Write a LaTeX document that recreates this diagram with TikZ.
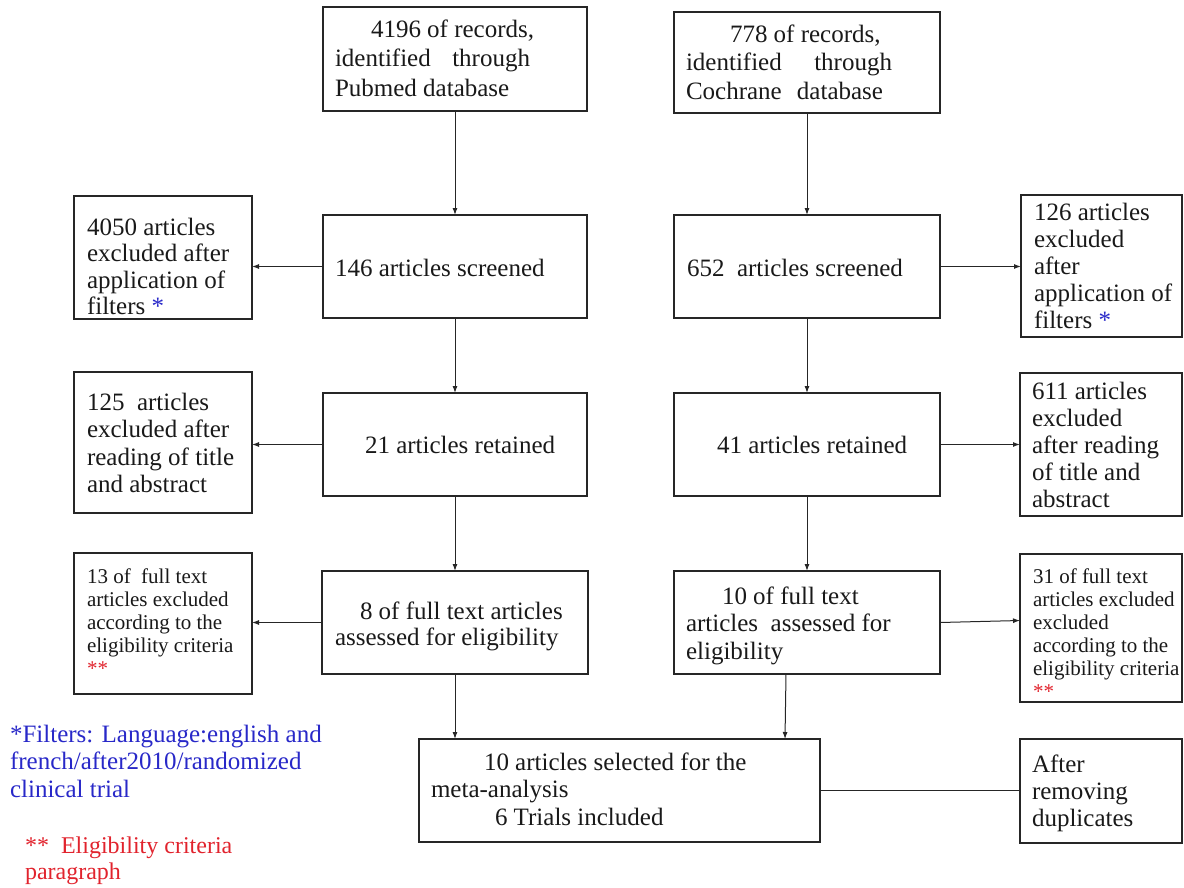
\documentclass[tikz,border=0pt]{standalone}
\usepackage{fontspec}
\setmainfont{Liberation Serif}
\usetikzlibrary{arrows.meta}
\definecolor{nblue}{RGB}{40,40,200}
\definecolor{nred}{RGB}{225,35,45}
\tikzset{
  box/.style={draw=black!85, line width=1.2pt, inner sep=0pt, outer sep=0pt},
  arr/.style={draw=black!85, line width=1pt, -{Latex[length=7pt,width=5pt]}},
  plain/.style={draw=black!85, line width=1pt},
  txt/.style={anchor=north west, inner sep=0pt, outer sep=0pt, align=left, text=black!90},
}
\newcommand\mkbox[5]{\node[box, minimum width={#4-#2}, minimum height={#5-#3}] (#1) at ({(#2+#4)/2},{(#3+#5)/2}) {};}
\newcommand\tx[5]{\node[txt, font=\fontsize{#3}{#4}\selectfont] (#1) at (#2) {\rule{0pt}{0.72em}#5};}
\begin{document}
\begin{tikzpicture}[x=1pt,y=-1pt]
\useasboundingbox (0,0) rectangle (1184,887);
% boxes
\mkbox{A}{323}{7}{587}{111}
\mkbox{B}{674}{12}{940}{113}
\mkbox{C}{323}{215}{587}{318}
\mkbox{D}{674}{215}{940}{318}
\mkbox{E}{323}{393}{587}{496}
\mkbox{F}{674}{393}{940}{496}
\mkbox{G}{322}{571}{588}{674}
\mkbox{H}{674}{571}{940}{674}
\mkbox{I}{419}{739}{820}{842}
\mkbox{J}{1020}{739}{1182}{843}
\mkbox{La}{74}{196}{252}{319}
\mkbox{Lb}{74}{372}{252}{513}
\mkbox{Lc}{74}{553}{252}{694}
\mkbox{Ra}{1021}{195}{1182}{337}
\mkbox{Rb}{1020}{373}{1182}{516}
\mkbox{Rc}{1020}{554}{1182}{702}
% texts
\tx{tA}{335,19}{25}{29.5}{\hspace*{36pt}4196 of records,\\\makebox[195pt][s]{identified through}\\Pubmed database}
\tx{tB}{686,24}{25}{28.5}{\hspace*{44pt}778 of records,\\\makebox[206pt][s]{identified through}\\\makebox[197pt][s]{Cochrane database}}
\tx{tC}{335,258}{25}{28}{146 articles screened}
\tx{tD}{687,258}{25}{28}{652\ \ articles screened}
\tx{tE}{365,435}{25}{28}{21 articles retained}
\tx{tF}{717,435}{25}{28}{41 articles retained}
\tx{tG}{335,601}{25}{26}{\hspace*{25pt}8 of full text articles\\assessed for eligibility}
\tx{tH}{686,586}{25}{27.5}{\hspace*{36pt}10 of full text\\articles\ \ assessed for\\eligibility}
\tx{tI}{431,752}{25}{27.5}{\hspace*{53pt}10 articles selected for the\\meta-analysis\\\hspace*{64pt}6 Trials included}
\tx{tJ}{1032,754}{25}{27}{After\\removing\\duplicates}
\tx{tLa}{87,217}{25}{26.5}{4050 articles\\excluded after\\application of\\filters \textcolor{nblue}{*}}
\tx{tLb}{87,392}{25}{27.5}{125\ \ articles\\excluded after\\reading of title\\and abstract}
\tx{tLc}{87,568}{21}{23}{13 of\ \ full text\\articles excluded\\according to the\\eligibility criteria\\\textcolor{nred}{**}}
\tx{tRa}{1034,202}{25}{27}{126 articles\\excluded\\after\\application of\\filters \textcolor{nblue}{*}}
\tx{tRb}{1032,381}{25}{27.2}{611 articles\\excluded\\after reading\\of title and\\abstract}
\tx{tRc}{1033,568}{21}{23}{31 of full text\\articles excluded\\excluded\\according to the\\eligibility criteria\\\textcolor{nred}{**}}
\node[txt, font=\fontsize{25}{27.5}\selectfont, text=nblue] (nb) at (10,724) {\rule{0pt}{0.72em}*Filters: Language:english and\\french/after2010/randomized\\clinical trial};
\node[txt, font=\fontsize{24}{26}\selectfont, text=nred] (nr) at (25,836) {\rule{0pt}{0.72em}**\ \ Eligibility criteria\\paragraph};
% connectors
\draw[arr] (A.south) -- (C.north);
\draw[arr] (B.south) -- (D.north);
\draw[arr] (C.west) -- (La.east |- C.west);
\draw[arr] (D.east) -- (Ra.west |- D.east);
\draw[arr] (C.south) -- (E.north);
\draw[arr] (D.south) -- (F.north);
\draw[arr] (E.west) -- (Lb.east |- E.west);
\draw[arr] (F.east) -- (Rb.west |- F.east);
\draw[arr] (E.south) -- (G.north);
\draw[arr] (F.south) -- (H.north);
\draw[arr] (G.west) -- (Lc.east |- G.west);
\draw[arr] (H.east) -- ([yshift=2pt]Rc.west |- H.east);
\draw[arr] (G.south) -- (G.south |- I.north);
\draw[arr] ([xshift=-21pt]H.south) -- ([xshift=-22pt]H.south |- I.north);
\draw[plain] (I.east) -- (J.west |- I.east);
\end{tikzpicture}
\end{document}
